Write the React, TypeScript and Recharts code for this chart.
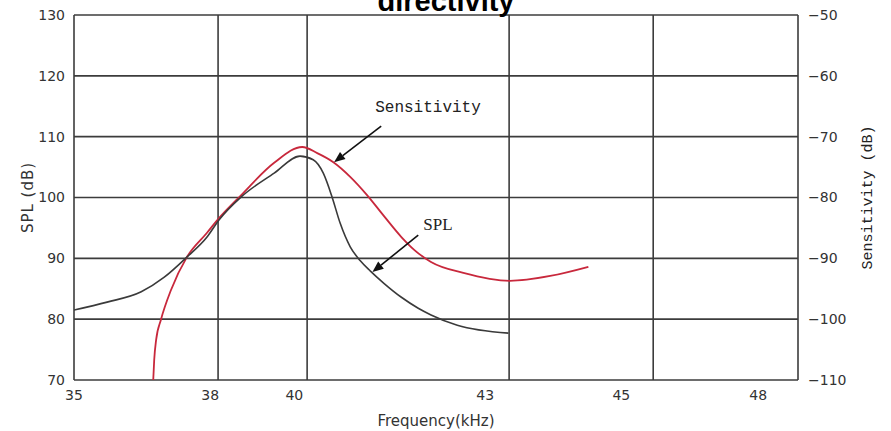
import React from "react";
import { LineChart, Line, XAxis, YAxis, CartesianGrid, ReferenceLine } from "recharts";

const xTicks = [35, 38, 40, 43, 45, 48];
const splTicks = [70, 80, 90, 100, 110, 120, 130];
const sensTicks = [-110, -100, -90, -80, -70, -60, -50];

const splFreq = [35, 35.69, 36.4, 36.88, 37.35, 37.77, 38.02, 38.52, 39.26, 39.84, 40.09, 40.24, 40.37, 40.49, 40.64, 40.79, 40.94, 41.14, 41.4, 41.65, 41.84, 42.23, 42.99];
const splValues = [81.5, 82.8, 84.5, 86.9, 90.2, 93.5, 96.3, 100.1, 104.0, 106.8, 106.2, 104.0, 100.1, 95.8, 91.9, 89.6, 87.9, 85.9, 83.6, 81.8, 80.7, 79.0, 77.7];

const sensFreq = [36.65, 36.67, 36.71, 36.81, 37.02, 37.35, 37.77, 38.02, 38.52, 39.26, 39.89, 40.15, 40.39, 40.64, 40.89, 41.13, 41.4, 41.59, 41.84, 42.32, 43.01, 43.57, 44.1];
const sensValues = [-110, -106.7, -103.4, -100.1, -95.2, -89.8, -85.8, -83.4, -79.6, -74.3, -71.7, -72.7, -74.2, -76.6, -79.6, -82.9, -86.5, -88.6, -90.6, -92.4, -93.7, -92.9, -91.4];

// arrows: tail (kHz, SPL) -> head (kHz, SPL)
const sensArrow = [41.1, 111.75, 40.4, 105.8];
const splArrow = [41.65, 93.8, 40.97, 87.75];

const splData = splFreq.map((f, i) => ({ f, spl: splValues[i] }));
const sensData = sensFreq.map((f, i) => ({ f, sens: sensValues[i] }));

// the printed frequency axis is not linear: grid lines sit at these fractions of the width
const xGridFractions = [0, 0.199, 0.322, 0.601, 0.8, 1];
const PLOT_LEFT = 74;

function piecewiseScale(knots: number[], fracs: number[]): any {
  let dom = [knots[0], knots[knots.length - 1]];
  let rng = [0, 1];
  const scale: any = (v: number) => {
    let i = 0;
    while (i < knots.length - 2 && v > knots[i + 1]) i++;
    const t = (v - knots[i]) / (knots[i + 1] - knots[i]);
    const fr = fracs[i] + t * (fracs[i + 1] - fracs[i]);
    return rng[0] + fr * (rng[1] - rng[0]);
  };
  scale.domain = (d?: number[]) => {
    if (d === undefined) return dom;
    dom = d.slice();
    return scale;
  };
  scale.range = (r?: number[]) => {
    if (r === undefined) return rng;
    rng = r.slice();
    return scale;
  };
  scale.copy = () => piecewiseScale(knots, fracs).domain(dom).range(rng);
  scale.ticks = () => knots.slice();
  scale.invert = (px: number) => {
    const fr = (px - rng[0]) / (rng[1] - rng[0]);
    let i = 0;
    while (i < fracs.length - 2 && fr > fracs[i + 1]) i++;
    const t = (fr - fracs[i]) / (fracs[i + 1] - fracs[i]);
    return knots[i] + t * (knots[i + 1] - knots[i]);
  };
  return scale;
}

const freqScale = piecewiseScale(xTicks, xGridFractions);

function FreqTick(props: any) {
  const { x, y, payload } = props;
  // printed labels drift left of their grid lines
  const tx = PLOT_LEFT + (x - PLOT_LEFT) * 0.945;
  return (
    <text x={tx} y={y} dy={11} textAnchor="middle" fontSize={14} fill="#333" fontFamily="DejaVu Sans">
      {payload.value}
    </text>
  );
}

function arrowShape(label: string, dx: number, dy: number, font: string, size: number) {
  return (p: any) => {
    const { x1, y1, x2, y2 } = p;
    const ang = Math.atan2(y2 - y1, x2 - x1);
    const len = 11;
    const w = 4.5;
    const bx = x2 - len * Math.cos(ang);
    const by = y2 - len * Math.sin(ang);
    const pts = [
      [x2, y2],
      [bx + w * Math.sin(ang), by - w * Math.cos(ang)],
      [bx - w * Math.sin(ang), by + w * Math.cos(ang)],
    ]
      .map((q) => q.join(","))
      .join(" ");
    return (
      <g>
        <line x1={x1} y1={y1} x2={bx} y2={by} stroke="#111" strokeWidth={1.6} />
        <polygon points={pts} fill="#111" />
        <text x={x1 + dx} y={y1 + dy} fontFamily={font} fontSize={size} fill="#222">
          {label}
        </text>
      </g>
    );
  };
}

const minus = (v: number) => String(v).replace("-", "\u2212");

export default function App() {
  return (
    <div style={{ position: "absolute", left: 0, top: 0, width: 891, height: 431, background: "#fff" }}>
      <LineChart width={891} height={431} margin={{ top: 15, right: 13, bottom: 1, left: 10 }}>
        <text x={446} y={11} textAnchor="middle" fontFamily="Liberation Sans" fontWeight="bold" fontSize={29} fill="#000">
          directivity
        </text>
        <CartesianGrid yAxisId="spl" stroke="#3c3c3c" strokeWidth={1.6} />
        <XAxis
          type="number"
          dataKey="f"
          scale={freqScale}
          domain={[35, 48]}
          ticks={xTicks}
          allowDataOverflow
          height={50}
          tickSize={0}
          tickMargin={9}
          tickLine={false}
          axisLine={false}
          tick={<FreqTick />}
          label={{ value: "Frequency(kHz)", position: "insideBottom", offset: 4, fontSize: 15, fill: "#333", fontFamily: "DejaVu Sans" }}
        />
        <YAxis
          yAxisId="spl"
          domain={[70, 130]}
          ticks={splTicks}
          width={64}
          tickSize={0}
          tickMargin={9}
          tickLine={false}
          axisLine={false}
          tick={{ fontSize: 14, fill: "#333", fontFamily: "DejaVu Sans" }}
          label={{ value: "SPL (dB)", angle: -90, position: "insideLeft", offset: 18, fontSize: 15, fill: "#333", fontFamily: "DejaVu Sans", style: { textAnchor: "middle", letterSpacing: 1 } }}
        />
        <YAxis
          yAxisId="sens"
          orientation="right"
          domain={[-110, -50]}
          ticks={sensTicks}
          width={80}
          tickSize={0}
          tickMargin={10}
          tickLine={false}
          axisLine={false}
          tickFormatter={minus}
          tick={{ fontSize: 14, fill: "#333", fontFamily: "DejaVu Sans" }}
          label={{ value: "Sensitivity (dB)", angle: -90, position: "insideRight", offset: 11, fontSize: 15, fill: "#222", fontFamily: "Liberation Mono", style: { textAnchor: "middle" } }}
        />
        <Line
          yAxisId="sens"
          data={sensData}
          dataKey="sens"
          type="monotone"
          stroke="#c8283c"
          strokeWidth={1.8}
          dot={false}
          isAnimationActive={false}
        />
        <Line
          yAxisId="spl"
          data={splData}
          dataKey="spl"
          type="monotone"
          stroke="#3a3a3a"
          strokeWidth={1.6}
          dot={false}
          isAnimationActive={false}
        />
        <ReferenceLine
          yAxisId="spl"
          segment={[{ x: sensArrow[0], y: sensArrow[1] }, { x: sensArrow[2], y: sensArrow[3] }]}
          shape={arrowShape("Sensitivity", -6, -14, "Liberation Mono", 16)}
        />
        <ReferenceLine
          yAxisId="spl"
          segment={[{ x: splArrow[0], y: splArrow[1] }, { x: splArrow[2], y: splArrow[3] }]}
          shape={arrowShape("SPL", 5, -5, "Liberation Serif", 17)}
        />
      </LineChart>
    </div>
  );
}
